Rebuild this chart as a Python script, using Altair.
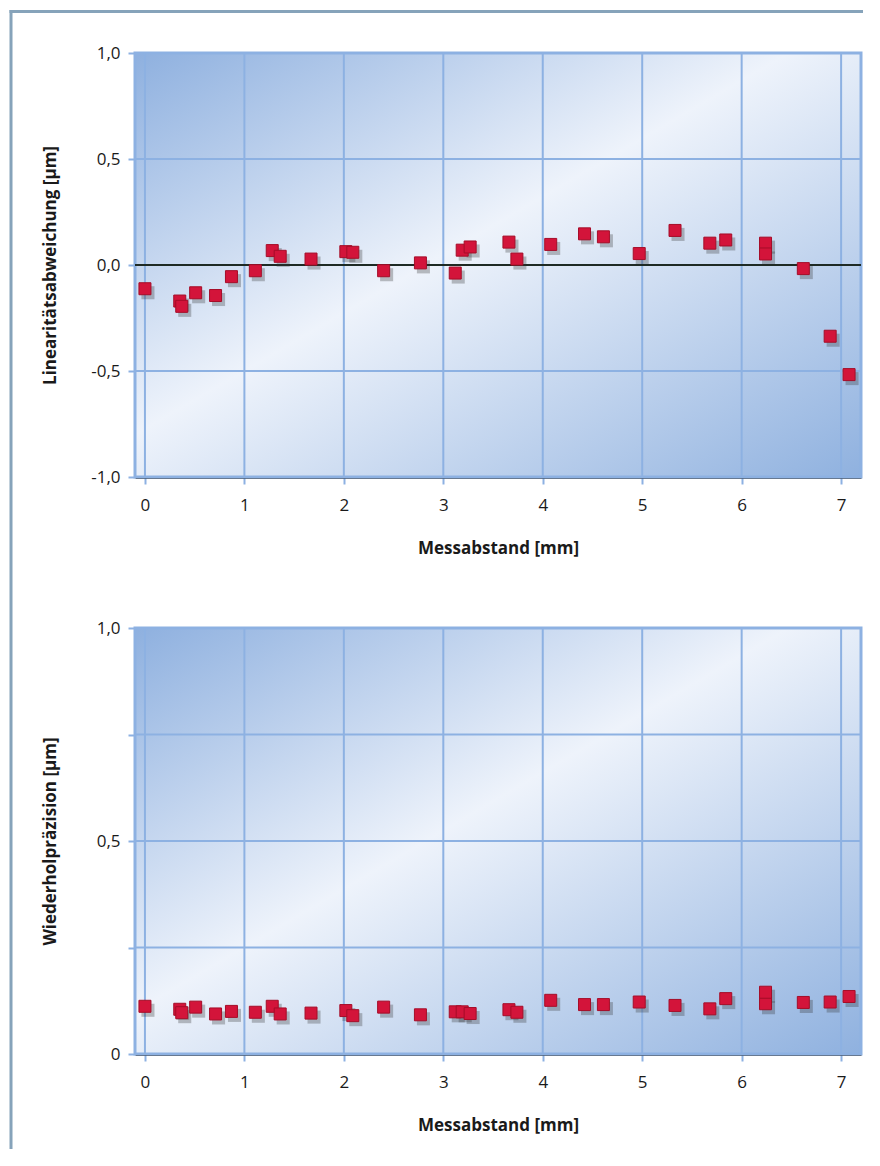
import altair as alt
import pandas as pd

# Measurement distance [mm] (shared by both panels)
messabstand = [0.0, 0.35, 0.37, 0.51, 0.71, 0.87, 1.11, 1.28, 1.36, 1.67,
               2.02, 2.09, 2.40, 2.77, 3.12, 3.19, 3.27, 3.66, 3.74, 4.08,
               4.42, 4.61, 4.97, 5.33, 5.68, 5.84, 6.24, 6.24, 6.62, 6.89, 7.08]
# Linearity deviation [µm]
linearitaet = [-0.112, -0.170, -0.195, -0.131, -0.144, -0.055, -0.027, 0.068, 0.041, 0.028,
               0.063, 0.060, -0.027, 0.010, -0.038, 0.070, 0.085, 0.108, 0.028, 0.097,
               0.147, 0.133, 0.054, 0.163, 0.103, 0.118, 0.103, 0.052, -0.017, -0.336, -0.517]
# Repeatability [µm]
wiederholung = [0.112, 0.105, 0.097, 0.110, 0.094, 0.100, 0.098, 0.112, 0.094, 0.096,
                0.102, 0.090, 0.110, 0.092, 0.099, 0.099, 0.095, 0.104, 0.098, 0.126,
                0.116, 0.116, 0.122, 0.114, 0.106, 0.130, 0.118, 0.145, 0.121, 0.122, 0.135]

x_ticks = [0, 1, 2, 3, 4, 5, 6, 7]
top_y_ticks = [-1.0, -0.5, 0.0, 0.5, 1.0]
top_y_grid = [-0.5, 0.5]
bottom_y_ticks = [0.0, 0.25, 0.5, 0.75, 1.0]
bottom_y_grid = [0.25, 0.5, 0.75]

df_top = pd.DataFrame({"x": messabstand, "y": linearitaet})
df_bot = pd.DataFrame({"x": messabstand, "y": wiederholung})
df_one = pd.DataFrame({"a": [0]})
df_xgrid = pd.DataFrame({"x": x_ticks})

W = 726
H_TOP = 424
H_BOT = 426

GRID = "#8db1e2"
FONT = "Open Sans"

gradient = alt.LinearGradient(
    gradient="linear",
    stops=[
        alt.GradientStop(offset=0, color="#8eb0df"),
        alt.GradientStop(offset=0.45, color="#eef3fb"),
        alt.GradientStop(offset=1, color="#8fb1df"),
    ],
    x1=0, y1=0, x2=1, y2=1,
)

X_SCALE = alt.Scale(domain=[-0.1, 7.2], nice=False, zero=False)

def x_enc():
    return alt.X(
        "x:Q",
        scale=X_SCALE,
        axis=alt.Axis(
            values=x_ticks, format="d", title="Messabstand [mm]",
            titleX=W / 2, titleY=71, titleBaseline="middle",
        ),
    )

def panel_background(h):
    return alt.Chart(df_one).mark_rect(
        fill=gradient, stroke=GRID, strokeWidth=3
    ).encode(
        x=alt.value(0), x2=alt.value(W), y=alt.value(0), y2=alt.value(h)
    )

def grid_layers(ygrid, yscale):
    vgrid = alt.Chart(df_xgrid).mark_rule(color=GRID, strokeWidth=2).encode(
        x=alt.X("x:Q", scale=X_SCALE)
    )
    hgrid = alt.Chart(pd.DataFrame({"y": ygrid})).mark_rule(color=GRID, strokeWidth=2).encode(
        y=alt.Y("y:Q", scale=yscale)
    )
    return vgrid, hgrid

def points(base):
    shadow = base.mark_square(color="#333333", opacity=0.3, size=170,
                              xOffset=3, yOffset=4)
    red = base.mark_square(color="#d3143a", stroke="#a50d28", strokeWidth=1,
                           opacity=1, size=144, filled=True)
    return shadow, red

# ---------- top panel ----------
Y_TOP = alt.Scale(domain=[-1, 1], nice=False)
base_top = alt.Chart(df_top).encode(
    x=x_enc(),
    y=alt.Y(
        "y:Q",
        scale=Y_TOP,
        axis=alt.Axis(
            values=top_y_ticks,
            labelExpr="replace(replace(format(datum.value, '.1f'), '.', ','), '\u2212', '-')",
            title="Linearitätsabweichung [µm]",
            titleX=-85, titleY=H_TOP / 2, titleBaseline="middle",
        ),
    ),
)
zero_line = alt.Chart(df_one).mark_rule(color="#1e2a24", strokeWidth=2).encode(
    y=alt.datum(0)
)
frame_left = alt.Chart(df_one).mark_rule(color="#86a3ba", strokeWidth=3).encode(
    x=alt.value(-124), y=alt.value(-43), y2=alt.value(1096)
)
frame_top = alt.Chart(df_one).mark_rule(color="#86a3ba", strokeWidth=3).encode(
    x=alt.value(-125.5), x2=alt.value(728), y=alt.value(-41.5)
)
vg_t, hg_t = grid_layers(top_y_grid, Y_TOP)
s_top, r_top = points(base_top)
top = alt.layer(
    frame_left, frame_top, panel_background(H_TOP), vg_t, hg_t, zero_line, s_top, r_top
).properties(width=W, height=H_TOP)

# ---------- bottom panel ----------
Y_BOT = alt.Scale(domain=[0, 1], nice=False)
base_bot = alt.Chart(df_bot).encode(
    x=x_enc(),
    y=alt.Y(
        "y:Q",
        scale=Y_BOT,
        axis=alt.Axis(
            values=bottom_y_ticks,
            labelExpr="datum.value == 0 ? '0' : (datum.value == 0.5 ? '0,5' : (datum.value == 1 ? '1,0' : ''))",
            title="Wiederholpräzision [µm]",
            titleX=-85, titleY=H_BOT / 2, titleBaseline="middle",
        ),
    ),
)
vg_b, hg_b = grid_layers(bottom_y_grid, Y_BOT)
s_bot, r_bot = points(base_bot)
bottom = alt.layer(
    panel_background(H_BOT), vg_b, hg_b, s_bot, r_bot
).properties(width=W, height=H_BOT)

chart = (
    alt.vconcat(top, bottom, spacing=151, bounds="flush")
    .properties(padding=0, background="white")
    .configure_view(stroke=None)
    .configure_axis(
        grid=False, zindex=1,
        domainColor="#000000", domainWidth=2.5,
        tickColor=GRID, tickWidth=2, tickSize=7,
        labelFont=FONT, labelFontSize=17, labelColor="#1a1a1a",
        titleFont=FONT, titleFontSize=17, titleFontWeight="bold", titleColor="#1a1a1a",
    )
    .configure_axisX(labelPadding=13)
    .configure_axisY(labelPadding=8)
)

chart.save("out.html", embed_options={"renderer": "svg", "actions": False})
